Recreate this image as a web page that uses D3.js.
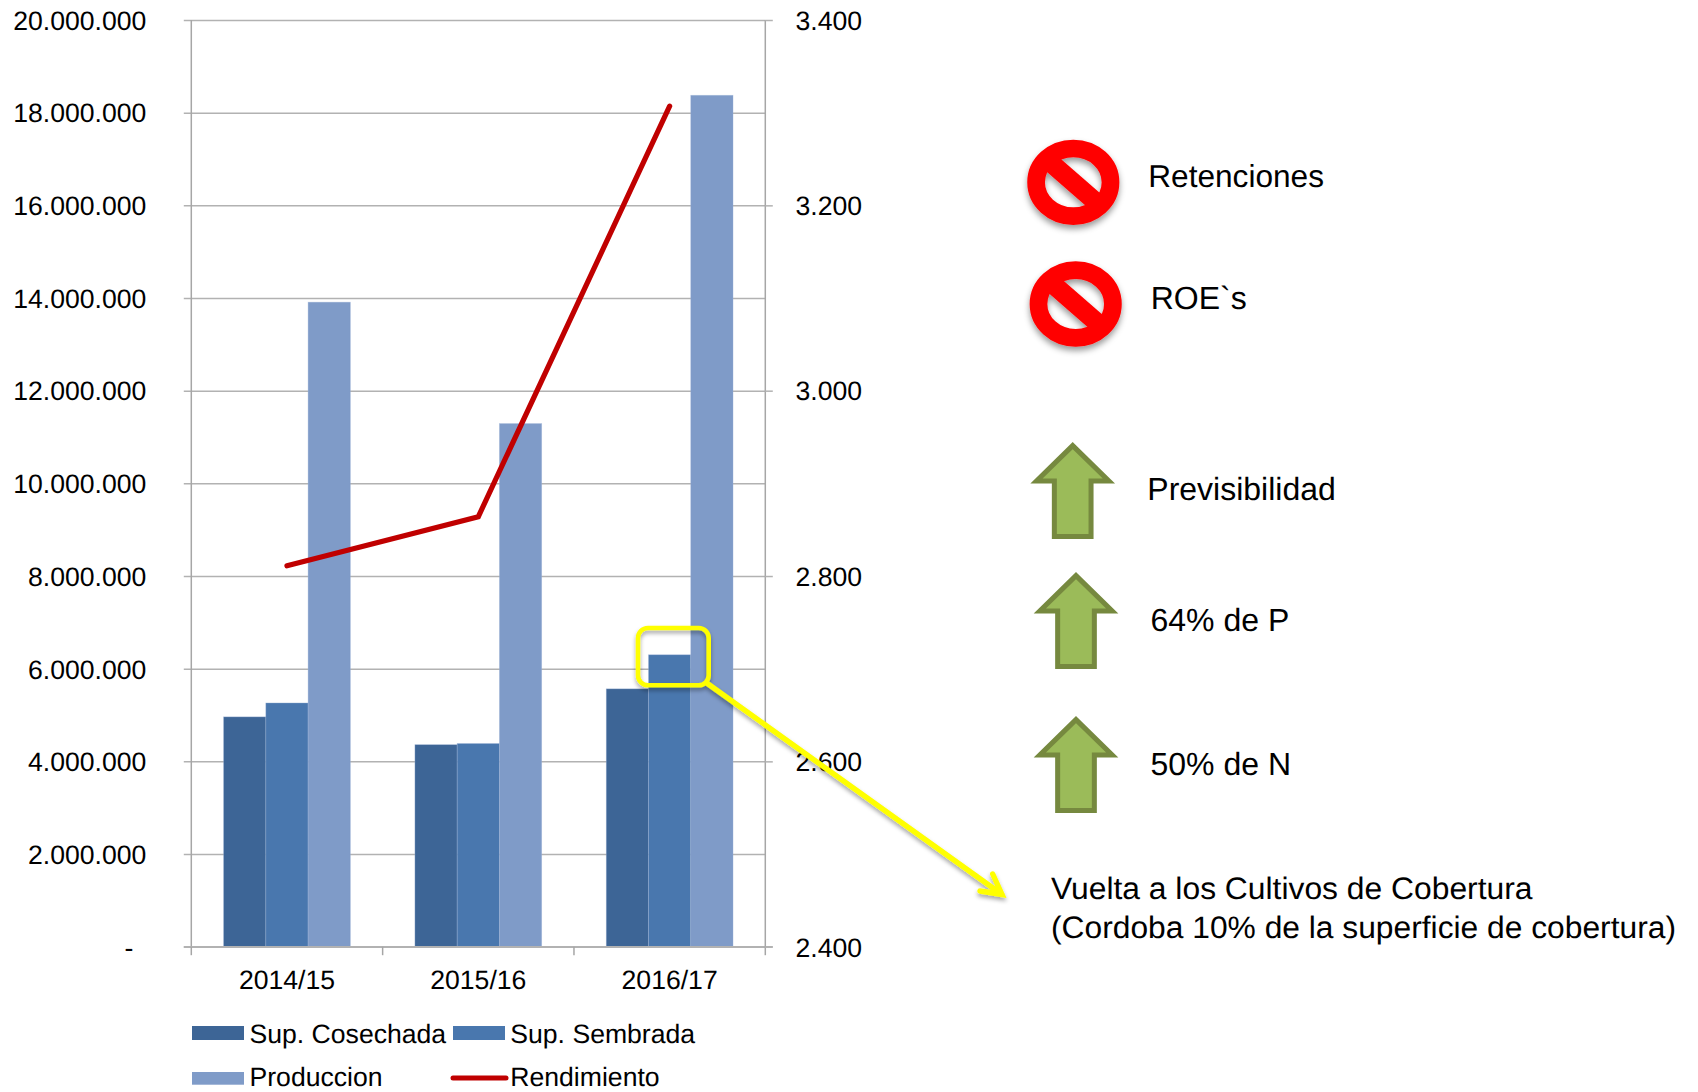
<!DOCTYPE html>
<html><head><meta charset="utf-8">
<script src="https://cdn.jsdelivr.net/npm/d3@7"></script>
<style>
html,body{margin:0;padding:0;background:#fff}
svg{display:block}
text{font-family:"Liberation Sans",Arial,sans-serif;fill:#000;text-rendering:geometricPrecision}
</style></head><body>
<svg id="c" width="1698" height="1092"></svg>
<script>
const categories = ["2014/15","2015/16","2016/17"];
const supCosechada = [4960000,4360000,5565000];
const supSembrada = [5260000,4385000,6300000];
const produccion = [13910000,11290000,18375000];
const rendimiento = [2811,2864,3307];
const leftTicks = [0,2000000,4000000,6000000,8000000,10000000,12000000,14000000,16000000,18000000,20000000];
const rightTicks = [2400,2600,2800,3000,3200,3400];
const seriesNames = ["Sup. Cosechada","Sup. Sembrada","Produccion","Rendimiento"];
const seriesColors = ["#3D6596","#4977AE","#7F9BC8","#C00000"];
const noLabels = ["Retenciones","ROE`s"];
const upLabels = ["Previsibilidad","64% de P","50% de N"];
const noteLines = ["Vuelta a los Cultivos de Cobertura","(Cordoba 10% de la superficie de cobertura)"];

const L=191.3,R=765.3,T=20,B=946.7,FS=26.6;
const svg=d3.select("#c");
const defs=svg.append("defs");
function shadow(id,dy,sd,op){
  const f=defs.append("filter").attr("id",id).attr("x","-30%").attr("y","-30%").attr("width","160%").attr("height","170%");
  f.append("feDropShadow").attr("dx",0).attr("dy",dy).attr("stdDeviation",sd).attr("flood-color","#000").attr("flood-opacity",op);
}
shadow("sh",4,3,.4);
shadow("shy",3,2,.35);

const x=d3.scaleBand().domain(categories).range([L,R]);
const off=x.bandwidth()/6;
const x1=d3.scaleBand().domain([0,1,2]).range([off+.4,off+x.bandwidth()*2/3-.4]);
const yL=d3.scaleLinear().domain([0,20000000]).range([B,T]);
const yR=d3.scaleLinear().domain([2400,3400]).range([B,T]);

const fmt=d=>d===0?"-":d3.format(",")(d).replace(/,/g,".");

// left axis with gridlines
const gl=svg.append("g").attr("transform",`translate(${L},0)`)
  .call(d3.axisLeft(yL).tickValues(leftTicks).tickSize(0).tickFormat(fmt));
gl.select(".domain").remove();
gl.selectAll(".tick line").attr("x1",-7.5).attr("x2",R-L).attr("stroke","#B2B2B2").attr("stroke-width",1.5);
gl.selectAll(".tick text").attr("x",d=>d===0?-58:-45).attr("dy",null).attr("y",9.3).attr("text-anchor","end").style("font-size",FS+"px").style("font-family",'"Liberation Sans"').attr("fill","#000");

// bars
const allSeries=[supCosechada,supSembrada,produccion];
allSeries.forEach((vals,s)=>{
  svg.append("g").selectAll("rect").data(vals).join("rect")
    .attr("x",(d,i)=>x(categories[i])+x1(s))
    .attr("width",x1.bandwidth())
    .attr("y",d=>yL(d))
    .attr("height",d=>B-yL(d))
    .attr("fill",seriesColors[s])
    .attr("stroke","#9DB4D8").attr("stroke-opacity",.5).attr("stroke-width",.7);
});

// axis frame
svg.append("line").attr("x1",L).attr("x2",L).attr("y1",T).attr("y2",B).attr("stroke","#A6A6A6").attr("stroke-width",1.5);
const gb=svg.append("g").attr("transform",`translate(0,${B})`)
  .call(d3.axisBottom(x).tickSize(0).tickFormat(d=>d));
gb.select(".domain").remove();
gb.selectAll(".tick line").remove();
gb.selectAll(".tick text").attr("y",42).attr("dy",null).style("font-size",FS+"px").style("font-family",'"Liberation Sans"').attr("fill","#000");
svg.append("line").attr("x1",L-7.5).attr("x2",R+7.5).attr("y1",B).attr("y2",B).attr("stroke","#B2B2B2").attr("stroke-width",1.5);
svg.append("g").selectAll("line").data([L,...categories.map(c=>x(c)+x.bandwidth())]).join("line")
  .attr("x1",d=>d).attr("x2",d=>d).attr("y1",B).attr("y2",B+8.5).attr("stroke","#A6A6A6").attr("stroke-width",1.5);

// right axis
const gr=svg.append("g").attr("transform",`translate(${R},0)`)
  .call(d3.axisRight(yR).tickValues(rightTicks).tickSize(7.5).tickFormat(fmt));
gr.select(".domain").attr("stroke","#A6A6A6").attr("stroke-width",1.5).attr("d",`M0,${T}V${B}`);
gr.selectAll(".tick line").attr("stroke","#B2B2B2").attr("stroke-width",1.5);
gr.selectAll(".tick text").attr("x",30.2).attr("dy",null).attr("y",9.3).attr("text-anchor","start").style("font-size",FS+"px").style("font-family",'"Liberation Sans"').attr("fill","#000");

// rendimiento line
const ln=d3.line().x((d,i)=>x(categories[i])+x.bandwidth()/2).y(d=>yR(d));
svg.append("path").attr("d",ln(rendimiento)).attr("fill","none").attr("stroke",seriesColors[3]).attr("stroke-width",5.2).attr("stroke-linecap","round");

// legend
const legItems=[
 {sx:192,ty:1043,tx:249.5,sy:1026,sh:14,i:0},
 {sx:453,ty:1043,tx:510.3,sy:1026,sh:14,i:1},
 {sx:192,ty:1086.2,tx:249.5,sy:1072,sh:12.7,i:2}];
legItems.forEach(l=>{
  svg.append("rect").attr("x",l.sx).attr("y",l.sy).attr("width",52).attr("height",l.sh).attr("fill",seriesColors[l.i]);
  svg.append("text").attr("x",l.tx).attr("y",l.ty).style("font-size",FS+"px").text(seriesNames[l.i]);
});
svg.append("line").attr("x1",453).attr("x2",506).attr("y1",1078).attr("y2",1078).attr("stroke",seriesColors[3]).attr("stroke-width",5).attr("stroke-linecap","round");
svg.append("text").attr("x",510.3).attr("y",1086.2).style("font-size",FS+"px").text(seriesNames[3]);

// no-entry signs
[[1073.3,182.3,1148.3,186.7,31.6],[1075.7,304,1150.7,309,32]].forEach((p,i)=>{
  const g=svg.append("g").attr("transform",`translate(${p[0]},${p[1]})`).attr("filter","url(#sh)");
  g.append("ellipse").attr("rx",37.2).attr("ry",33.8).attr("fill","none").attr("stroke","#FF0000").attr("stroke-width",17.7);
  g.append("line").attr("x1",-31).attr("y1",-27).attr("x2",31).attr("y2",27).attr("stroke","#FF0000").attr("stroke-width",19);
  svg.append("text").attr("x",p[2]).attr("y",p[3]).style("font-size",p[4]+"px").text(noLabels[i]);
});

// up arrows
const arrowPath="M0,3.3L36.2,38.65L18.35,38.65L18.35,94.3L-18.35,94.3L-18.35,38.65L-36.2,38.65Z";
[[1072.7,442.3,1147.3,500],[1076,572.3,1150.5,630.7],[1076,716.3,1150.5,775]].forEach((p,i)=>{
  svg.append("path").attr("transform",`translate(${p[0]},${p[1]})`).attr("d",arrowPath)
    .attr("fill","#9BBB59").attr("stroke","#76893F").attr("stroke-width",5).attr("stroke-linejoin","miter");
  svg.append("text").attr("x",p[2]).attr("y",p[3]).style("font-size","32px").text(upLabels[i]);
});

// yellow callout
const cg=svg.append("g").attr("filter","url(#shy)");
cg.append("rect").attr("x",638).attr("y",628).attr("width",70.7).attr("height",57.3).attr("rx",10).attr("fill","none").attr("stroke","#FFFF00").attr("stroke-width",4.6);
cg.append("path").attr("d","M706.7,683L1002,894.5M992.7,874L1002,894.5L980,891").attr("fill","none").attr("stroke","#FFFF00").attr("stroke-width",5.4).attr("stroke-linecap","round").attr("stroke-linejoin","miter");

// note
svg.append("text").attr("x",1051).attr("y",899).attr("textLength",481.5).attr("lengthAdjust","spacingAndGlyphs").style("font-size","31px").text(noteLines[0]);
svg.append("text").attr("x",1051).attr("y",937.5).attr("textLength",625).attr("lengthAdjust","spacingAndGlyphs").style("font-size","31px").text(noteLines[1]);
</script>
</body></html>
